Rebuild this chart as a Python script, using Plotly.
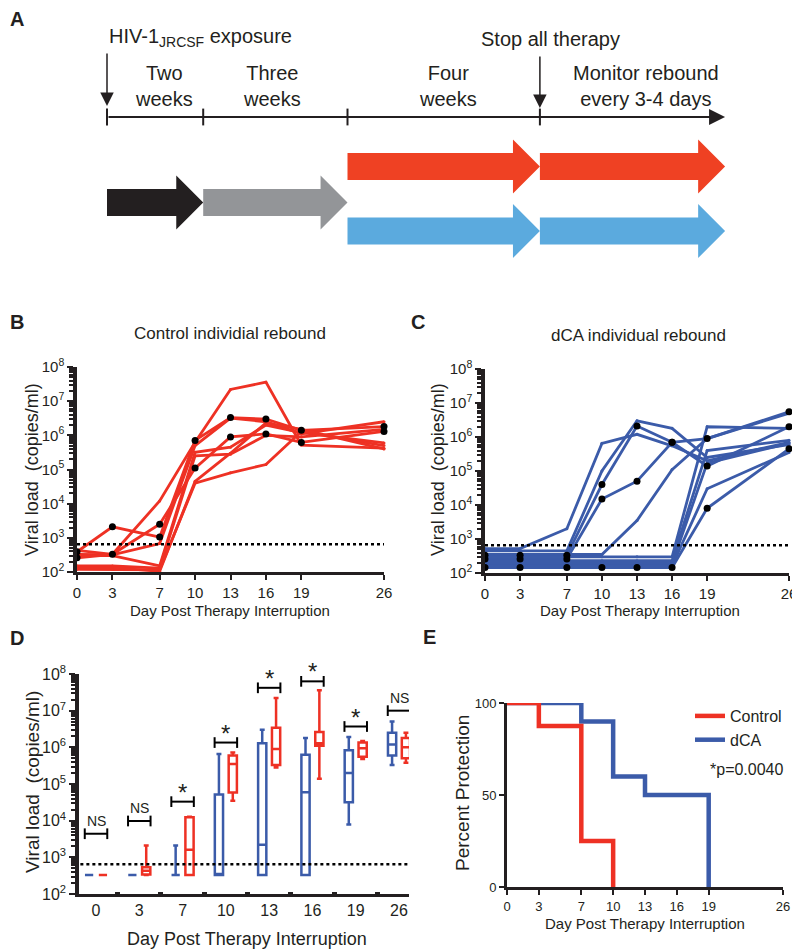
import math
import plotly.graph_objects as go

FONT = "Liberation Sans, Arial, Helvetica, sans-serif"
INK = "#231F20"
RED = "#EE3124"
BLUE = "#3B5BA9"

# ---- panel A: study timeline (weeks) ----
phase_edges = [0, 2, 5, 9]
monitor_end = 12.85
phase_labels = ["Two<br>weeks", "Three<br>weeks", "Four<br>weeks", "Monitor rebound<br>every 3-4 days"]
arrow_starts = [0, 2, 5, 9, 5, 9]
arrow_ends = [2, 5, 9, monitor_end, 9, monitor_end]
arrow_colors = [INK, "#939598", "#EF4123", "#EF4123", "#5BAADE", "#5BAADE"]
arrow_rows = [202.5, 202.5, 166.5, 166.5, 231, 231]

# ---- panels B/C: individual viral loads (copies/ml) ----
days = [0, 3, 7, 10, 13, 16, 19, 26]

control_1 = [390, 2100, 1050, 710000, 3300000, 3000000, 1400000, 1800000]
control_2 = [430, 330, 12000, 630000, 22000000, 36000000, 520000, 420000]
control_3 = [330, 320, 680, 500000, 3200000, 2500000, 1100000, 2500000]
control_4 = [300, 300, 150, 320000, 450000, 2000000, 1200000, 600000]
control_5 = [260, 330, 2500, 110000, 900000, 1100000, 620000, 1300000]
control_6 = [150, 150, 130, 250000, 280000, 1000000, 900000, 1500000]
control_7 = [120, 120, 115, 40000, 80000, 140000, 1300000, 500000]
control_8 = [135, 135, 105, 45000, 300000, 2300000, 1500000, 400000]
control_animals = [control_1, control_2, control_3, control_4,
                   control_5, control_6, control_7, control_8]
control_marked = [True, False, False, False, True, False, False, False]

dca_1 = [520, 520, 2000, 650000, 1200000, 550000, 200000, 700000]
dca_2 = [450, 450, 450, 100000, 3000000, 1800000, 250000, 600000]
dca_3 = [330, 330, 330, 40000, 2100000, 700000, 140000, 2000000]
dca_4 = [260, 260, 260, 15000, 50000, 700000, 900000, 5500000]
dca_5 = [350, 350, 350, 350, 3500, 110000, 900000, 5000000]
dca_6 = [300, 300, 300, 300, 300, 300, 2000000, 1800000]
dca_7 = [230, 230, 230, 230, 230, 230, 400000, 800000]
dca_8 = [190, 190, 190, 190, 190, 190, 170000, 650000]
dca_9 = [165, 165, 165, 165, 165, 165, 30000, 350000]
dca_10 = [145, 145, 145, 145, 145, 145, 8000, 450000]
dca_animals = [dca_1, dca_2, dca_3, dca_4, dca_5, dca_6, dca_7, dca_8, dca_9, dca_10]
dca_marked = [False, False, True, True, False, False, False, False, False, True]

detection_limit = 650

# ---- panel D: box summaries per day (copies/ml) ----
dca_q1 = [330, 330, 330, 330, 330, 330, 32000, 600000]
dca_median = [330, 330, 330, 330, 2200, 60000, 200000, 1200000]
dca_q3 = [330, 330, 330, 52000, 1300000, 630000, 830000, 2500000]
dca_low = [330, 330, 330, 330, 330, 330, 7800, 330000]
dca_high = [330, 330, 2100, 660000, 3000000, 1800000, 1900000, 5100000]

control_q1 = [330, 340, 330, 59000, 330000, 1100000, 550000, 500000]
control_median = [330, 430, 1600, 350000, 900000, 1300000, 950000, 1000000]
control_q3 = [330, 540, 12300, 600000, 3400000, 2600000, 1350000, 1800000]
control_low = [330, 330, 330, 35000, 280000, 140000, 480000, 380000]
control_high = [330, 2100, 12800, 720000, 22000000, 36000000, 1500000, 2500000]

bracket_levels = [4400, 9800, 33000, 1350000, 42000000, 63000000, 3700000, 10000000]
bracket_labels = ["NS", "NS", "*", "*", "*", "*", "*", "NS"]

# ---- panel E: percent protection ----
control_surv_days = [0, 3, 7, 10]
control_surv_pct = [100, 87.5, 25, 0]
dca_surv_days = [0, 7, 10, 13, 19]
dca_surv_pct = [100, 90, 60, 50, 0]

decades = [2, 3, 4, 5, 6, 7, 8]
minor_vals = [k * 10 ** e for e in range(2, 8) for k in range(2, 10)]

# the page body adds an 8px margin, so the figure is drawn 8px in from the corner
OFF = 8
W, H = 800 - OFF, 950 - OFF


def px_x(p):
    return (p - OFF) / W


def px_y(p):
    return 1 - (p - OFF) / H


def log_axis(top, bottom, anchor, size=15):
    return dict(
        domain=[px_y(bottom), px_y(top)], anchor=anchor, type="log", range=[2, 8],
        tickvals=[10 ** e for e in decades],
        ticktext=[f"10<sup>{e}</sup>" for e in decades],
        ticks="outside", ticklen=6, tickwidth=2, tickcolor=INK,
        minor=dict(tickvals=minor_vals, ticks="outside", ticklen=4, tickwidth=1.5, tickcolor=INK),
        showline=True, linewidth=3.5, linecolor=INK, showgrid=False, zeroline=False,
        tickfont=dict(size=size, color=INK),
    )


def day_axis(left, right, anchor, size=15):
    return dict(
        domain=[px_x(left), px_x(right)], anchor=anchor, range=[0, 26],
        tickvals=days, ticks="outside", ticklen=5, tickwidth=2, tickcolor=INK,
        showline=True, linewidth=3, linecolor=INK, showgrid=False, zeroline=False,
        tickfont=dict(size=size, color=INK),
    )


fig = go.Figure()

# ---- B and C: individual rebound lines ----
for animals, marked, color, xa, ya in [
    (control_animals, control_marked, RED, "x", "y"),
    (dca_animals, dca_marked, BLUE, "x2", "y2"),
]:
    for vals in animals:
        fig.add_trace(go.Scatter(
            x=days, y=vals, mode="lines+markers", xaxis=xa, yaxis=ya,
            line=dict(color=color, width=2.8), marker=dict(size=3, color=color),
            cliponaxis=False, showlegend=False, hoverinfo="skip"))
    for vals, m in zip(animals, marked):
        if m:
            fig.add_trace(go.Scatter(
                x=days, y=vals, mode="markers", xaxis=xa, yaxis=ya,
                marker=dict(size=7, color="black"),
                cliponaxis=False, showlegend=False, hoverinfo="skip"))
    fig.add_trace(go.Scatter(
        x=[0, 26], y=[detection_limit, detection_limit], mode="lines",
        xaxis=xa, yaxis=ya, line=dict(color="black", width=2.5, dash="dot"),
        showlegend=False, hoverinfo="skip"))

# ---- D: box plots ----
idx = list(range(len(days)))
for q1, med, q3, lo, hi, color, off in [
    (dca_q1, dca_median, dca_q3, dca_low, dca_high, BLUE, -0.16),
    (control_q1, control_median, control_q3, control_low, control_high, RED, 0.16),
]:
    fig.add_trace(go.Box(
        x=[i + off for i in idx], q1=q1, median=med, q3=q3,
        lowerfence=lo, upperfence=hi, width=0.19, whiskerwidth=0.6,
        line=dict(color=color, width=2.5), fillcolor="white",
        boxpoints=False, xaxis="x3", yaxis="y3", showlegend=False, hoverinfo="skip"))

fig.add_trace(go.Scatter(
    x=[-0.5, 7.5], y=[detection_limit, detection_limit], mode="lines",
    xaxis="x3", yaxis="y3", line=dict(color="black", width=2.5, dash="dot"),
    showlegend=False, hoverinfo="skip"))

bx, by = [], []
for i, lvl in zip(idx, bracket_levels):
    l, r = i - 0.26, i + 0.26
    bx += [l, l, None, l, r, None, r, r, None]
    by += [lvl / 1.4, lvl * 1.4, None, lvl, lvl, None, lvl / 1.4, lvl * 1.4, None]
fig.add_trace(go.Scatter(
    x=bx, y=by, mode="lines", xaxis="x3", yaxis="y3",
    line=dict(color="black", width=2), showlegend=False, hoverinfo="skip"))

# ---- E: survival ----
fig.add_trace(go.Scatter(
    x=dca_surv_days, y=dca_surv_pct, mode="lines", line_shape="hv", name="dCA",
    line=dict(color=BLUE, width=4.5), xaxis="x4", yaxis="y4", cliponaxis=False,
    legendrank=2))
fig.add_trace(go.Scatter(
    x=control_surv_days, y=control_surv_pct, mode="lines", line_shape="hv", name="Control",
    line=dict(color=RED, width=4.5), xaxis="x4", yaxis="y4", cliponaxis=False,
    legendrank=1))

# ---- A: timeline schematic ----
fig.add_trace(go.Scatter(
    x=phase_edges, y=[117] * len(phase_edges), mode="markers", xaxis="x5", yaxis="y5",
    marker=dict(symbol="line-ns", size=12, line=dict(width=2, color=INK)),
    showlegend=False, hoverinfo="skip"))

shapes = []
head = 0.56
for s, e, c, row in zip(arrow_starts, arrow_ends, arrow_colors, arrow_rows):
    bh, hh = 13.5, 27
    path = (f"M {s},{row - bh} L {e - head},{row - bh} L {e - head},{row - hh} "
            f"L {e},{row} L {e - head},{row + hh} L {e - head},{row + bh} L {s},{row + bh} Z")
    shapes.append(dict(type="path", path=path, xref="x5", yref="y5",
                       fillcolor=c, line=dict(width=0), layer="above"))

annotations = []


def note(text, x, y, size, **kw):
    d = dict(text=text, x=x, y=y, xref="paper", yref="paper", showarrow=False,
             font=dict(family=FONT, size=size, color=INK))
    d.update(kw)
    annotations.append(d)


# timeline axis with arrow
annotations.append(dict(x=monitor_end, y=117, ax=0, ay=117, xref="x5", yref="y5",
                        axref="x5", ayref="y5", text="", showarrow=True, arrowhead=2,
                        arrowsize=1.6, arrowwidth=2, arrowcolor=INK))
for xw, y0, y1 in [(0, 52, 106), (9, 55, 108)]:
    annotations.append(dict(x=xw, y=y1, ax=xw, ay=y0, xref="x5", yref="y5",
                            axref="x5", ayref="y5", text="", showarrow=True, arrowhead=2,
                            arrowsize=1.8, arrowwidth=1.5, arrowcolor=INK))
annotations.append(dict(text="HIV-1<sub>JRCSF</sub> exposure", x=0, y=37, xref="x5", yref="y5",
                        xanchor="left", yanchor="middle", showarrow=False,
                        font=dict(family=FONT, size=20, color=INK)))
annotations.append(dict(text="Stop all therapy", x=9, y=39, xref="x5", yref="y5",
                        xanchor="center", yanchor="middle", showarrow=False, xshift=11,
                        font=dict(family=FONT, size=20, color=INK)))
mids = [(a + b) / 2 for a, b in zip(phase_edges, phase_edges[1:] + [monitor_end])]
shifts = [9, -3, 4, 14]
for lab, m, sh in zip(phase_labels, mids, shifts):
    annotations.append(dict(text=lab, x=m, y=86, xref="x5", yref="y5", xanchor="center",
                            yanchor="middle", showarrow=False, xshift=sh,
                            font=dict(family=FONT, size=20, color=INK)))

# panel letters
for lab, x, y in [("A", OFF, 19), ("B", OFF, 322), ("C", 409, 322), ("D", OFF, 638), ("E", 421, 637)]:
    note(f"<b>{lab}</b>", px_x(x), px_y(y), 20, xanchor="left", yanchor="middle")

# titles
note("Control individial rebound", px_x(230), px_y(334), 17, xanchor="center", yanchor="middle")
note("dCA individual rebound", px_x(638), px_y(335), 17, xanchor="center", yanchor="middle")
for x, y, sz in [(32, 470, 18), (438, 470, 18), (32, 782, 19)]:
    note("Viral load  (copies/ml)", px_x(x), px_y(y), sz, textangle=-90,
         xanchor="center", yanchor="middle")
note("Percent Protection", px_x(462), px_y(793), 19, textangle=-90, xanchor="center", yanchor="middle")
for x, y, sz in [(230, 610, 15), (640, 610, 15), (247, 939, 18), (645, 923, 15)]:
    note("Day Post Therapy Interruption", px_x(x), px_y(y), sz, xanchor="center", yanchor="middle")
note("*p=0.0040", px_x(747), px_y(769), 16, xanchor="center", yanchor="middle")

# significance labels
for i, lvl, lab in zip(idx, bracket_levels, bracket_labels):
    star = lab == "*"
    annotations.append(dict(text=lab, x=i, y=math.log10(lvl), xref="x3", yref="y3",
                            showarrow=False, xanchor="center", yanchor="bottom",
                            yshift=-6 if star else 3,
                            font=dict(family=FONT, size=24 if star else 14, color=INK)))

d_axis_x = dict(
    domain=[px_x(79), px_x(409)], anchor="y3", range=[-0.393, 7.231],
    tickvals=idx, ticktext=[str(d) for d in days], ticks="", showline=True,
    linewidth=3, linecolor=INK, showgrid=False, zeroline=False,
    tickfont=dict(size=16, color=INK),
    minor=dict(tickvals=[i + 0.5 for i in idx[:-1]], ticks="inside", ticklen=2,
               tickwidth=5, tickcolor=INK),
)

fig.update_layout(
    width=W, height=H, margin=dict(l=0, r=0, t=0, b=0, autoexpand=False),
    paper_bgcolor="white", plot_bgcolor="white",
    font=dict(family=FONT, color=INK),
    boxmode="overlay",
    xaxis=day_axis(77, 384, "y"),
    yaxis=log_axis(367, 572, "x"),
    xaxis2=day_axis(485, 789, "y2"),
    yaxis2=log_axis(369, 573, "x2"),
    xaxis3=d_axis_x,
    yaxis3=log_axis(674, 894, "x3", size=16),
    xaxis4=dict(domain=[px_x(507), px_x(783)], anchor="y4", range=[0, 26],
                tickvals=days, ticks="outside", ticklen=5, tickwidth=2, tickcolor=INK,
                showline=True, linewidth=3, linecolor=INK, showgrid=False, zeroline=False,
                tickfont=dict(size=13, color=INK)),
    yaxis4=dict(domain=[px_y(887), px_y(703)], anchor="x4", range=[0, 100],
                tickvals=[0, 50, 100], ticks="outside", ticklen=5, tickwidth=2, tickcolor=INK,
                showline=True, linewidth=3, linecolor=INK, showgrid=False, zeroline=False,
                tickfont=dict(size=13, color=INK)),
    xaxis5=dict(domain=[0, 1], anchor="y5", visible=False,
                range=[-(107 - OFF) / 48.1, (800 - 107) / 48.1]),
    yaxis5=dict(domain=[px_y(280), 1], anchor="x5", range=[280, OFF], visible=False),
    legend=dict(x=px_x(690), y=px_y(699), xanchor="left", yanchor="top",
                font=dict(size=16, color=INK), bgcolor="rgba(0,0,0,0)", itemwidth=30),
    shapes=shapes,
    annotations=annotations,
)

fig.write_html("out.html")
